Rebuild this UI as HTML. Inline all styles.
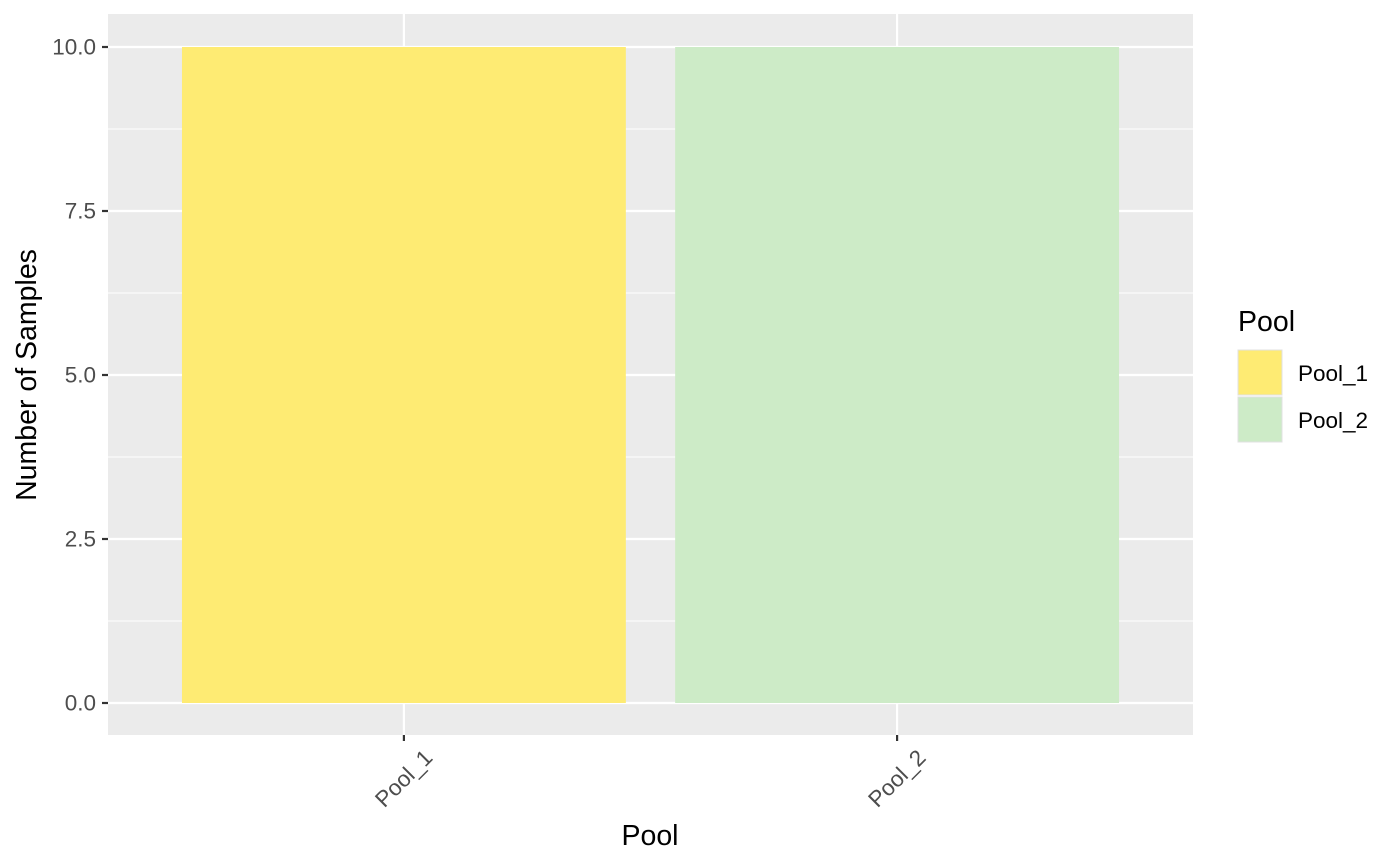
<!DOCTYPE html>
<html><head><meta charset="utf-8">
<style>
html,body{margin:0;padding:0;background:#fff;}
svg{display:block;font-family:"Liberation Sans",Arial,sans-serif;}
</style></head>
<body>
<svg id="chart" width="1400" height="865" viewBox="0 0 1400 865" xmlns="http://www.w3.org/2000/svg">
<rect x="0" y="0" width="1400" height="865" fill="#fff"/>
<rect x="108" y="14" width="1085" height="721" fill="#ebebeb"/>
<g id="grid"></g>
<g id="bars"></g>
<g id="axes"></g>
<text transform="translate(36,375) rotate(-90)" text-anchor="middle" font-size="28.5" fill="#000">Number of Samples</text>
<text x="650" y="845" text-anchor="middle" font-size="28.5" fill="#000">Pool</text>
<g id="legend">
<text x="1238" y="331" font-size="28.5" fill="#000">Pool</text>
</g>
</svg>
<script>
const categories = ["Pool_1","Pool_2"];
const values = [10,10];
const colors = ["#FEEB73","#CDEBC7"];
const yTicks = [0,2.5,5,7.5,10];
const yTickLabels = ["0.0","2.5","5.0","7.5","10.0"];

const NS="http://www.w3.org/2000/svg";
const px0=108, px1=1193, py0=735, py1=14;
const y0px=703, y10px=47;
function yScale(v){return y0px+(y10px-y0px)*v/10;}
const band=(px1-px0)/(categories.length+0.2);
function xCenter(i){return px0+band*0.6+band*i;}
function mk(tag,attrs,parent){const e=document.createElementNS(NS,tag);for(const k in attrs)e.setAttribute(k,attrs[k]);parent.appendChild(e);return e;}
const grid=document.getElementById('grid'),bars=document.getElementById('bars'),axes=document.getElementById('axes'),legend=document.getElementById('legend');
for(let i=0;i<yTicks.length-1;i++){
  const v=(yTicks[i]+yTicks[i+1])/2;
  const l=mk('line',{x1:px0,x2:px1,y1:yScale(v),y2:yScale(v),stroke:'#fff','stroke-width':1.1},grid);
  
  
}
yTicks.forEach((v,i)=>{
  const l=mk('line',{x1:px0,x2:px1,y1:yScale(v),y2:yScale(v),stroke:'#fff','stroke-width':2.2},grid);
  
  
  const t=mk('line',{x1:102,x2:108,y1:yScale(v),y2:yScale(v),stroke:'#333','stroke-width':2.2},axes);
  
  
  const tx=mk('text',{x:96,y:yScale(v)+7.5,'text-anchor':'end','font-size':22.5,fill:'#4d4d4d'},axes);
  tx.textContent=yTickLabels[i];
  
  
});
categories.forEach((c,i)=>{
  const cx=xCenter(i);
  const l=mk('line',{x1:cx,x2:cx,y1:py1,y2:py0,stroke:'#fff','stroke-width':2.2},grid);
  
  
  const w=band*0.9;
  const r=mk('rect',{x:cx-w/2,y:yScale(values[i]),width:w,height:yScale(0)-yScale(values[i]),fill:colors[i]},bars);
  
  
  const t=mk('line',{x1:cx,x2:cx,y1:735,y2:741,stroke:'#333','stroke-width':2.2},axes);
  
  
  const tx=mk('text',{transform:`translate(${cx+30},${759}) rotate(-45)`,'text-anchor':'end','font-size':22.5,fill:'#4d4d4d'},axes);
  tx.textContent=c;
  
  
  const k=mk('rect',{x:1238,y:350+i*47,width:44,height:45,fill:colors[i],stroke:'#e0e0e0','stroke-width':1},legend);
  
  
  const lt=mk('text',{x:1298,y:381+i*47,'font-size':22.5,fill:'#000'},legend);
  lt.textContent=c;
  
  
});
</script>
</body></html>
